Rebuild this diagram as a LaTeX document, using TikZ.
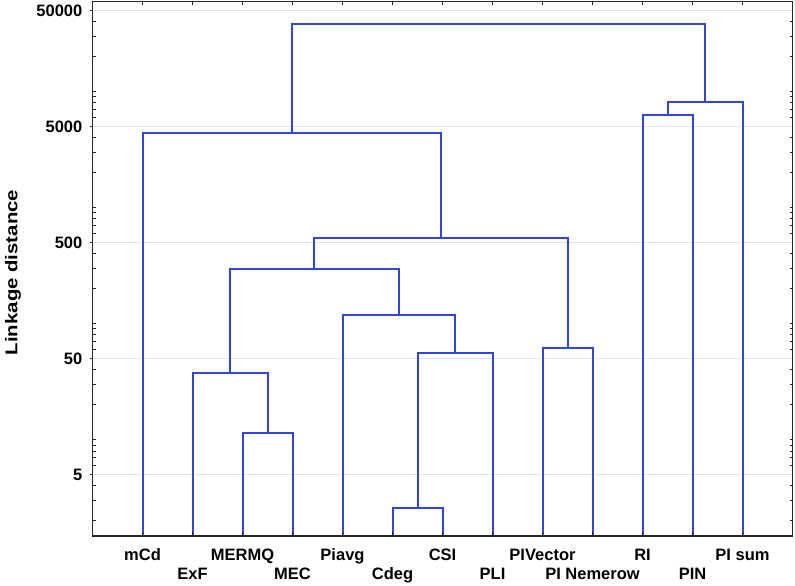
\documentclass[tikz,border=0pt]{standalone}
\usepackage{graphicx}
\usepackage{fontspec}
\setmainfont{Liberation Sans}
\definecolor{dendro}{RGB}{50,70,215}
\definecolor{gridc}{RGB}{226,226,226}
\begin{document}
\begin{tikzpicture}[x=1pt,y=-1pt,
  link/.style={draw=dendro,line width=2pt},
  leaflab/.style={font=\fontsize{16.5}{18}\selectfont\bfseries,anchor=base,inner sep=0pt},
  ylab/.style={font=\fontsize{16.5}{18}\selectfont\bfseries,anchor=east,inner sep=0pt},
  gridline/.style={draw=gridc,line width=1.2pt},
  axisframe/.style={draw=black!85,line width=1.4pt},
  tickmark/.style={draw=black!85,line width=1pt}]
\useasboundingbox (0,0) rectangle (795,586);

% grid lines at 50000, 5000, 500, 50, 5
\foreach \yy in {10.3,126.4,242.5,358.6,474.7}{
  \draw[gridline] (92.5,\yy) -- (792.5,\yy);
}

% leaf coordinates
\foreach \i in {0,...,12}{
  \coordinate (l\i) at ({142.5+50*\i},536);
}

% merge points
\coordinate (ma) at (417.5,508.3);
\coordinate (mb) at (455,352.7);
\coordinate (mc) at (398.75,315);
\coordinate (md) at (267.5,432.7);
\coordinate (me) at (230,372.7);
\coordinate (mf) at (314.4,269.3);
\coordinate (mg) at (567.5,347.7);
\coordinate (mh) at (440.9,238.3);
\coordinate (mi) at (291.7,133.3);
\coordinate (mj) at (667.5,115.3);
\coordinate (mk) at (705,102);
\coordinate (mtop) at (498.4,24.3);

% dendrogram
\draw[link] (l5) |- (ma) -| (l6);
\draw[link] (ma) |- (mb) -| (l7);
\draw[link] (l4) |- (mc) -| (mb);
\draw[link] (l2) |- (md) -| (l3);
\draw[link] (l1) |- (me) -| (md);
\draw[link] (me) |- (mf) -| (mc);
\draw[link] (l8) |- (mg) -| (l9);
\draw[link] (mf) |- (mh) -| (mg);
\draw[link] (l0) |- (mi) -| (mh);
\draw[link] (l10) |- (mj) -| (l11);
\draw[link] (mj) |- (mk) -| (l12);
\draw[link] (mi) |- (mtop) -| (mk);

% minor ticks (inward) on left and right axes
\foreach \n in {0,...,4}{
  \foreach \k in {1,2,3,4,6,7,8,9}{
    \pgfmathsetmacro{\yy}{10.3+116.1*(4.69897-log10(\k)-\n)}
    \pgfmathparse{(\yy>2 && \yy<535) ? 1 : 0}
    \ifnum\pgfmathresult=1
      \draw[tickmark] (92.5,\yy) -- (95.5,\yy);
      \draw[tickmark] (792.5,\yy) -- (789.5,\yy);
    \fi
  }
}
% major ticks (outward) on the left axis
\foreach \yy in {10.3,126.4,242.5,358.6,474.7}{
  \draw[tickmark] (89.5,\yy) -- (92.5,\yy);
}
% ticks at leaves on top and bottom axes
\foreach \i in {0,...,12}{
  \draw[tickmark] ({142.5+50*\i},1.5) -- ({142.5+50*\i},5.5);
  \draw[tickmark] ({142.5+50*\i},536) -- ({142.5+50*\i},532);
}

% frame
\draw[axisframe] (92.5,1.5) rectangle (792.5,536);

% y tick labels
\node[ylab] (y50000) at (82.5,11) {50000};
\node[ylab] (y5000) at (82.5,127) {5000};
\node[ylab] (y500) at (82.5,243) {500};
\node[ylab] (y50) at (82.5,359) {50};
\node[ylab] (y5) at (82.5,475) {5};

% y axis title
\node[rotate=90,inner sep=0pt,font=\fontsize{17}{19}\selectfont\bfseries] (ytitle) at (13,272.5) {\scalebox{1.2}[1]{Linkage distance}};

% leaf labels
\node[leaflab] (t0) at (142.5,560) {mCd};
\node[leaflab] (t1) at (192.5,579) {ExF};
\node[leaflab] (t2) at (242.5,560) {MERMQ};
\node[leaflab] (t3) at (292.5,579) {MEC};
\node[leaflab] (t4) at (342.5,560) {Piavg};
\node[leaflab] (t5) at (392.5,579) {Cdeg};
\node[leaflab] (t6) at (442.5,560) {CSI};
\node[leaflab] (t7) at (492.5,579) {PLI};
\node[leaflab] (t8) at (542.5,560) {PIVector};
\node[leaflab] (t9) at (592.5,579) {PI Nemerow};
\node[leaflab] (t10) at (642.5,560) {RI};
\node[leaflab] (t11) at (692.5,579) {PIN};
\node[leaflab] (t12) at (742.5,560) {PI sum};
\end{tikzpicture}
\end{document}
